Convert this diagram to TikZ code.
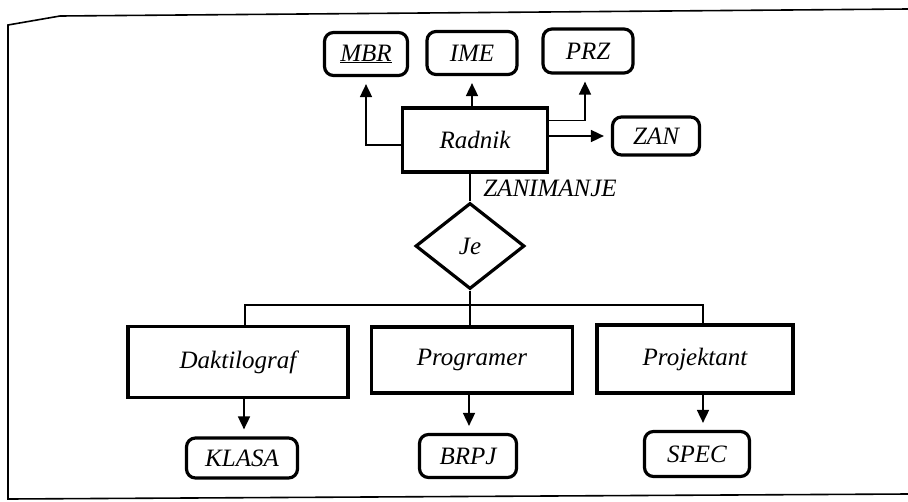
\documentclass[tikz,border=0pt]{standalone}
\usepackage{fontspec}
\setmainfont{Liberation Serif}
\usetikzlibrary{arrows.meta,shapes.geometric}

\tikzset{
  lbl/.style={font=\itshape\fontsize{25}{28}\selectfont},
  entity/.style={lbl, draw, line width=3.2pt, inner sep=0pt},
  attrib/.style={lbl, draw, line width=3.2pt, rounded corners=9pt, inner sep=0pt},
  relation/.style={lbl, draw, line width=3.2pt, shape=diamond, aspect=1.27,
    inner sep=0pt, minimum width=109pt, minimum height=86pt},
  link/.style={line width=1.7pt},
  arr/.style={link, -{Triangle[length=13pt,width=12pt]}, shorten >=7pt},
  frameline/.style={line width=1.6pt}
}

\begin{document}
\begin{tikzpicture}[x=1pt, y=-1pt]
  \useasboundingbox (0,0) rectangle (908,501);

  % page frame
  \draw[frameline] (908,9) -- (60,16) -- (8,25) -- (8,499) -- (908,494);

  % entity and its attributes
  \node[entity, minimum width=145pt, minimum height=64pt] (radnik) at (475,140) {Radnik};
  \node[attrib, minimum width=83pt, minimum height=43pt] (mbr) at (366,54) {\underline{MBR}};
  \node[attrib, minimum width=90pt, minimum height=43pt] (ime) at (472,53) {IME};
  \node[attrib, minimum width=90pt, minimum height=44pt] (prz) at (588,51) {PRZ};
  \node[attrib, minimum width=87pt, minimum height=38pt] (zan) at (656,136) {ZAN};

  % relationship
  \node[lbl] (zanimanje) at (550,188) {ZANIMANJE};
  \node[relation] (je) at (470,246) {Je};
  \coordinate (bus) at (470,305);

  % subtypes
  \node[entity, minimum width=220pt, minimum height=71pt] (dak) at (238,362) {Daktilograf};
  \node[entity, minimum width=201pt, minimum height=66pt] (prog) at (472,360) {Programer};
  \node[entity, minimum width=196pt, minimum height=68pt] (proj) at (695,359) {Projektant};

  % subtype attributes
  \node[attrib, minimum width=111pt, minimum height=40pt] (klasa) at (242,458) {KLASA};
  \node[attrib, minimum width=97pt, minimum height=43pt] (brpj) at (468,456) {BRPJ};
  \node[attrib, minimum width=105pt, minimum height=45pt] (spec) at (697,454) {SPEC};

  % attribute arrows of Radnik
  \draw[arr] ([yshift=-5pt]radnik.west) -| (mbr.south);
  \draw[arr] (radnik.north -| ime) -- (ime.south);
  \draw[arr] ([yshift=-14pt]radnik.north east) -| ([xshift=-3pt]prz.south);
  \draw[arr] (radnik.east |- zan) -- (zan.west);

  % Radnik -- Je -- subtypes
  \draw[link] (radnik.south -| je) -- (je.north);
  \draw[link] (je.south) -- (bus);
  \draw[link] ([xshift=7pt]dak.north) |- (bus) -| ([xshift=8pt]proj.north);
  \draw[link] (bus) -- (bus |- prog.north);

  % attribute arrows of subtypes
  \draw[arr] ([xshift=6pt]dak.south) -- ([xshift=6pt]dak.south |- klasa.north);
  \draw[arr] ([xshift=-3pt]prog.south) -- ([xshift=-3pt]prog.south |- brpj.north);
  \draw[arr] ([xshift=8pt]proj.south) -- ([xshift=8pt]proj.south |- spec.north);
\end{tikzpicture}
\end{document}
